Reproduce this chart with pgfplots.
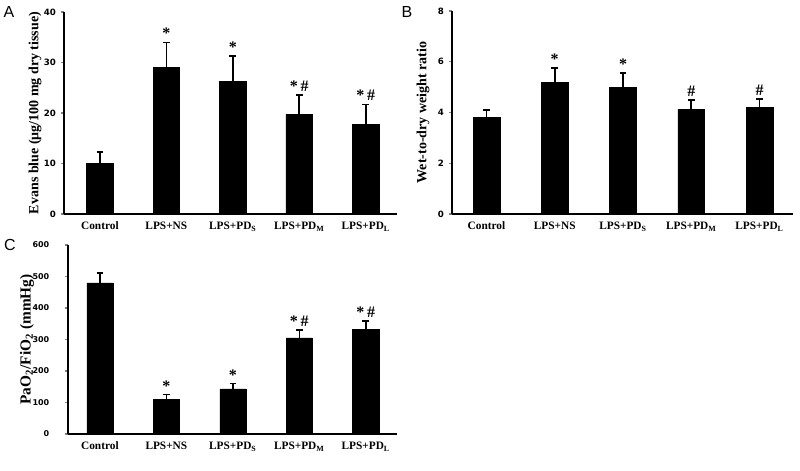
\documentclass[border=0pt]{standalone}
\usepackage{fontspec}
\setmainfont{Liberation Serif}
\newfontfamily\numfont{DejaVu Sans}
\newfontfamily\letterfont{Liberation Sans}
\usepackage{pgfplots}
\pgfplotsset{compat=1.18}
\pgfplotsset{
  panel/.style={
    scale only axis,
    axis lines*=left,
    axis line style={line width=1.1pt},
    tick align=outside,
    tick pos=left,
    major tick length=2.5pt,
    xtick=data,
    xticklabels={Control, LPS+NS, LPS+PD\textsubscript{S}, LPS+PD\textsubscript{M}, LPS+PD\textsubscript{L}},
    x tick style={draw=none},
    y tick style={line width=1pt},
    ymin=0,
    /pgf/number format/assume math mode=true,
    yticklabel style={font=\numfont\bfseries\fontsize{6.5}{8}\selectfont},
    xticklabel style={font=\bfseries\fontsize{8.5}{10}\selectfont},
    ylabel style={font=\bfseries\fontsize{10.5}{12}\selectfont, anchor=center},
    clip=false,
  },
  bars/.style={
    ybar, bar shift=0pt, bar width=#1, fill=black, draw=black,
    error bars/.cd, y dir=plus, y explicit,
    error bar style={line width=1.2pt, black},
    error mark options={rotate=90, line width=1.2pt, mark size=2.5pt, black},
  },
  sig/.style={
    draw=none, mark=none, forget plot,
    nodes near coords, point meta=explicit symbolic,
    every node near coord/.append style={font=\bfseries\fontsize{12}{12}\selectfont, anchor=south, inner sep=1pt, yshift=1.5pt},
  },
}
\begin{document}
\begin{tikzpicture}
\path[use as bounding box] (0pt,0pt) rectangle (600pt,353.25pt);

% Panel A
\begin{axis}[panel, at={(48pt,192.75pt)}, anchor=south west,
  width=249.75pt, height=151.5pt,
  xmin=-0.54, xmax=4.47, ymax=40, ytick={0,10,20,30,40},
  ylabel style={at={(axis description cs:-0.087,0.5)}},
  ylabel={Evans blue (μg/100 mg dry tissue)}]
\addplot[bars=20pt] coordinates {
  (0,10.0) +- (0,2.3)
  (1,29.1) +- (0,4.9)
  (2,26.3) +- (0,5.0)
  (3,19.8) +- (0,3.8)
  (4,17.8) +- (0,3.9)
};
\addplot[sig] coordinates {
  (1,34.0) [*]
  (2,31.3) [*]
  (3,23.6) [*\,\#]
  (4,21.7) [*\,\#]
};
\end{axis}

% Panel B
\begin{axis}[panel, at={(339pt,192.75pt)}, anchor=south west,
  width=255.75pt, height=152.25pt,
  xmin=-0.505, xmax=4.49, ymax=8, ytick={0,2,4,6,8},
  ylabel style={at={(axis description cs:-0.085,0.5)}},
  ylabel={Wet-to-dry weight ratio}]
\addplot[bars=20pt] coordinates {
  (0,3.80) +- (0,0.30)
  (1,5.20) +- (0,0.55)
  (2,4.99) +- (0,0.56)
  (3,4.12) +- (0,0.37)
  (4,4.19) +- (0,0.35)
};
\addplot[sig] coordinates {
  (1,5.75) [*]
  (2,5.55) [*]
  (3,4.49) [\#]
  (4,4.54) [\#]
};
\end{axis}

% Panel C
\begin{axis}[panel, at={(51pt,27.75pt)}, anchor=south west,
  width=246.75pt, height=141.75pt,
  xmin=-0.48, xmax=4.47, ymax=600, ytick={0,100,200,300,400,500,600},
  yticklabel style={font=\numfont\bfseries\fontsize{6}{7}\selectfont, xshift=-8pt},
  ylabel style={at={(axis description cs:-0.125,0.5)}, font=\bfseries\fontsize{11.5}{13}\selectfont},
  ylabel={PaO\textsubscript{2}/FiO\textsubscript{2} (mmHg)}]
\addplot[bars=19.5pt] coordinates {
  (0,480) +- (0,32)
  (1,110) +- (0,15)
  (2,143) +- (0,17)
  (3,305) +- (0,25)
  (4,332) +- (0,26)
};
\addplot[sig] coordinates {
  (1,125) [*]
  (2,160) [*]
  (3,330) [*\,\#]
  (4,358) [*\,\#]
};
\end{axis}

\node[font=\letterfont\fontsize{12}{12}\selectfont] at (6.75pt,344.25pt) {A};
\node[font=\letterfont\fontsize{12}{12}\selectfont] at (305.25pt,344.25pt) {B};
\node[font=\letterfont\fontsize{12}{12}\selectfont] at (7.5pt,169.5pt) {C};
\end{tikzpicture}
\end{document}
